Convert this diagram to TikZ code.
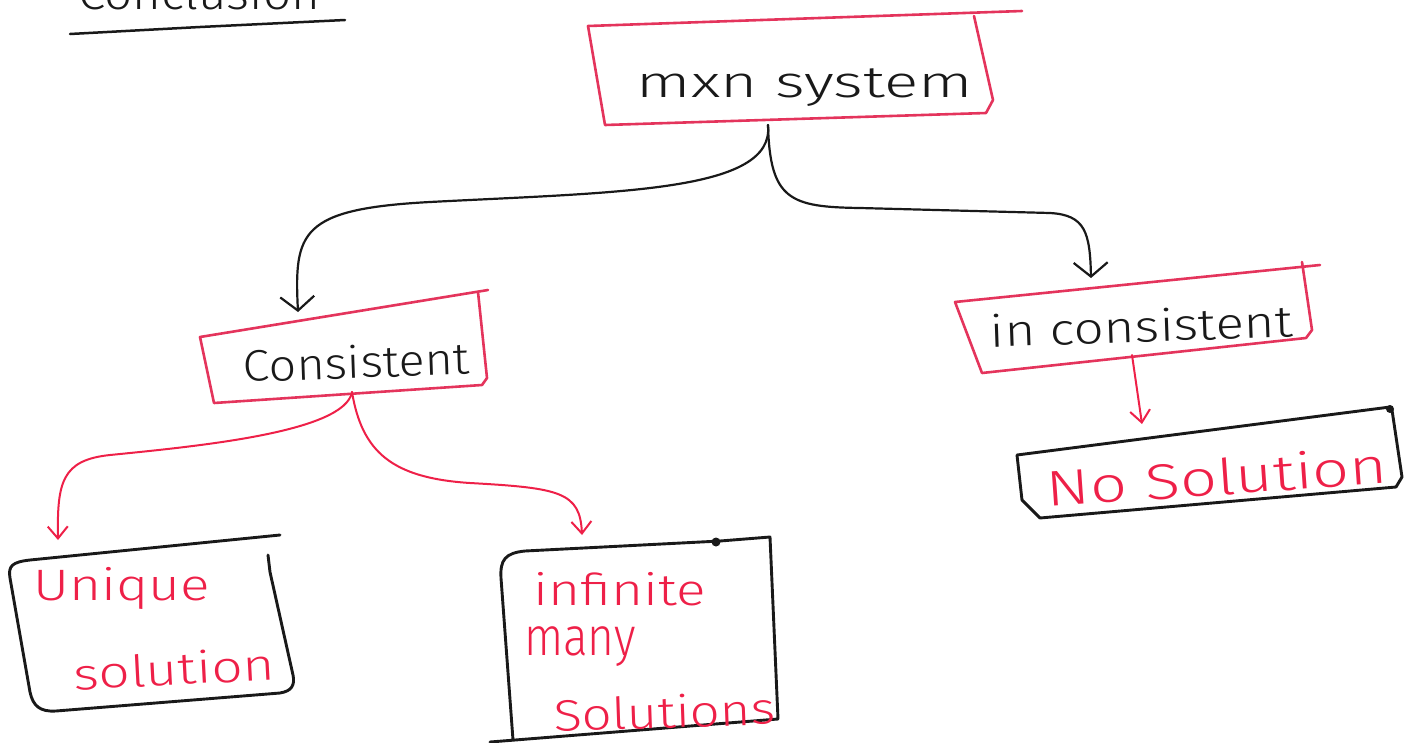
\documentclass[tikz,border=0pt]{standalone}
\usepackage{fontspec}
\setmainfont{Fira Sans}[UprightFont={* Light}]
\usetikzlibrary{arrows.meta}
\definecolor{boxred}{RGB}{228,52,92}
\definecolor{inkred}{RGB}{238,32,72}
\definecolor{ink}{RGB}{25,25,25}
% horizontally stretched handwriting-like label
\newcommand{\hand}[2]{\scalebox{#1}[1]{#2}}
\tikzset{
  redbox/.style={draw=boxred, line width=2.6pt, line join=round, line cap=round},
  blackbox/.style={draw=ink, line width=2.9pt, line join=round, line cap=round},
  word/.style={inner sep=0pt, anchor=base, font=\fontsize{44}{50}\selectfont},
  blacktext/.style={word, text=ink},
  redtext/.style={word, text=inkred},
  blackflow/.style={draw=ink, line width=2.2pt, line cap=round,
    -{Straight Barb[length=14pt,width=34pt,line width=2.2pt]}},
  redflow/.style={draw=inkred, line width=2pt, line cap=round,
    -{Straight Barb[length=12pt,width=20pt,line width=2pt]}},
}
\begin{document}
\begin{tikzpicture}[x=1pt,y=-1pt]
\useasboundingbox (0,0) rectangle (1413,742);
\clip (0,0) rectangle (1413,742);

% heading, cut at the top of the page
\node[blacktext, anchor=base west] (title) at (78,9) {\hand{1.12}{Conclusion}};
\draw[ink, line width=2.5pt, line cap=round] (70,34) -- (200,27) -- (345,20);

% ---- top box
\draw[redbox] (1022,11) -- (588,26) -- (605,125) -- (986,113) -- (993,100) -- (974,16);
\node[blacktext] (mxn) at (805,97) {\hand{1.45}{mxn system}};

% ---- consistent
\draw[redbox] (488,290) -- (200,337) -- (214,403) -- (482,385) -- (487,378) -- (478,292);
\node[blacktext, rotate=2] (cons) at (357,378) {\hand{1.1}{Consistent}};

% ---- inconsistent
\draw[redbox] (1320,265) -- (955,302) -- (982,373) -- (1306,338) -- (1312,330) -- (1302,262);
\node[blacktext, rotate=2] (incons) at (1142,342) {\hand{1.2}{in consistent}};

% ---- no solution
\draw[blackbox] (1390,407) -- (1017,455) -- (1022,500) -- (1040,518) -- (1396,487) -- (1402,477) -- (1392,410);
\fill[ink] (1390,409) circle (4);
\node[redtext, rotate=4, font=\fontsize{50}{56}\selectfont] (nosol) at (1218,495) {\hand{1.3}{No Solution}};

% ---- unique solution
\draw[blackbox] (280,535) -- (30,560) .. controls (12,562) and (8,566) .. (10,578)
  -- (30,692) .. controls (33,706) and (40,712) .. (56,711) -- (280,693)
  .. controls (292,691) and (295,685) .. (293,675) -- (270,572) -- (268,555);
\node[redtext] (uniq) at (122,600) {\hand{1.25}{Unique}};
\node[redtext, rotate=3] (uniqsol) at (175,685) {\hand{1.25}{solution}};

% ---- infinitely many solutions
\draw[blackbox] (490,742) -- (778,719) -- (770,537) -- (720,541) -- (525,551)
  .. controls (505,553) and (500,560) .. (501,578) -- (513,740);
\fill[ink] (716,542) circle (4.5);
\node[redtext] (inf) at (620,605) {\hand{1.25}{infinite}};
\node[redtext, font=\fontsize{54}{60}\selectfont] (many) at (580,655) {\hand{0.85}{many}};
\node[redtext, rotate=2] (infsol) at (665,728) {\hand{1.2}{Solutions}};

% ---- connector ends
\coordinate (mxnB) at (768,125);
\coordinate (consT) at (298,312);
\coordinate (consB) at (352,392);
\coordinate (inconsT) at (1091,278);
\coordinate (inconsB) at (1132,355);
\coordinate (uniqT) at (58,540);
\coordinate (infT) at (582,535);
\coordinate (nosolT) at (1142,424);

% ---- connectors
\draw[blackflow] (mxnB) .. controls (775,192) and (620,192) .. (430,202)
  .. controls (300,209) and (294,232) .. (consT);
\draw[blackflow] (mxnB) .. controls (770,200) and (790,207) .. (860,208)
  -- (1050,213) .. controls (1085,215) and (1090,232) .. (inconsT);
\draw[redflow] (consB) .. controls (345,432) and (200,446) .. (110,455)
  .. controls (62,460) and (57,482) .. (uniqT);
\draw[redflow] (consB) .. controls (362,452) and (392,478) .. (470,483)
  .. controls (560,488) and (580,492) .. (infT);
\draw[redflow] (inconsB) -- (nosolT);
\end{tikzpicture}
\end{document}
